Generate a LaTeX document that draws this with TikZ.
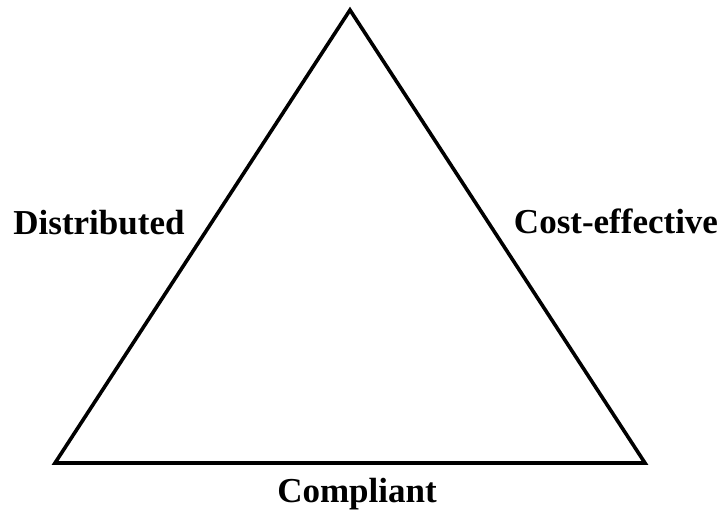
\documentclass[tikz,border=0pt]{standalone}
\usepackage{fontspec}
\setmainfont{Liberation Serif}
\begin{document}
\begin{tikzpicture}[x=0.5pt, y=-0.5pt]
    \useasboundingbox (0,0) rectangle (720,510);
    \coordinate (apex) at (350, 10);
    \coordinate (bl) at (55, 463);
    \coordinate (br) at (645, 463);
    \draw[line width=1.8pt, line join=miter] (apex) -- (bl) -- (br) -- cycle;
    \node[anchor=base, font=\fontsize{17.5}{21}\selectfont\bfseries, inner sep=0pt] (dist) at (99, 234) {Distributed};
    \node[anchor=base, font=\fontsize{17.5}{21}\selectfont\bfseries, inner sep=0pt] (cost) at (616, 233) {Cost-effective};
    \node[anchor=base, font=\fontsize{17.5}{21}\selectfont\bfseries, inner sep=0pt] (comp) at (357, 502) {Compliant};
  \end{tikzpicture}
\end{document}
